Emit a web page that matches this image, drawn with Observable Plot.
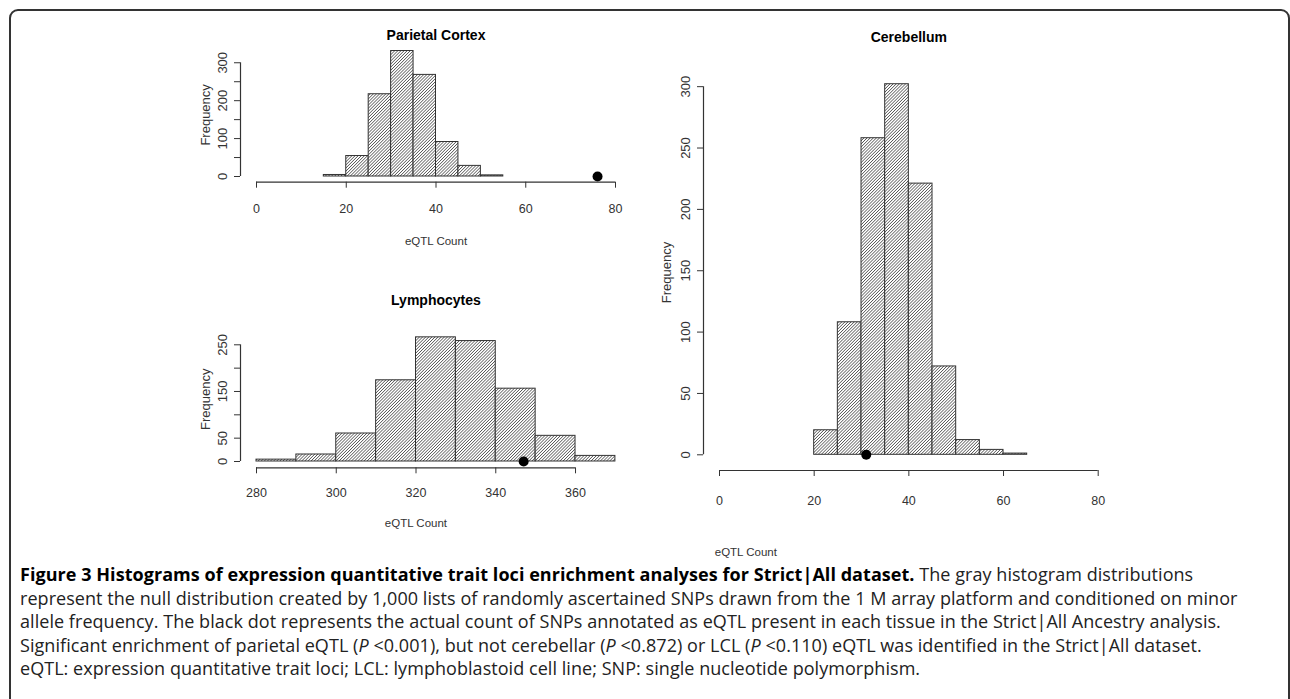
<!DOCTYPE html>
<html><head><meta charset="utf-8">
<script src="https://cdn.jsdelivr.net/npm/d3@7"></script>
<script src="https://cdn.jsdelivr.net/npm/@observablehq/plot@0.6"></script>
<style>
html,body{margin:0;padding:0;background:#fff}
body{width:1290px;height:699px;overflow:hidden;position:relative;font-family:"Liberation Sans",Arial,sans-serif}
#frame{position:absolute;left:9px;top:9px;width:1281px;height:720px;border:2px solid #333;border-radius:9px;box-sizing:border-box}
.panel{position:absolute}
#caption{position:absolute;left:20px;top:563px;font-family:"Open Sans",sans-serif;font-size:18px;letter-spacing:0.05px;line-height:23.5px;color:#222;white-space:nowrap}
#caption b{color:#000}
</style></head>
<body>
<div id="frame"></div>
<svg width="0" height="0" style="position:absolute">
  <defs>
    <pattern id="hatch" patternUnits="userSpaceOnUse" width="2.2" height="2.2" patternTransform="rotate(45)">
      <rect width="2.2" height="2.2" fill="#fff"/>
      <line x1="1.1" y1="0" x2="1.1" y2="2.2" stroke="#555" stroke-width="0.75"/>
    </pattern>
  </defs>
</svg>
<div id="p1" class="panel"></div>
<div id="p2" class="panel"></div>
<div id="p3" class="panel"></div>
<div id="caption">
<div><b>Figure 3 Histograms of expression quantitative trait loci enrichment analyses for Strict|All dataset.</b> The gray histogram distributions</div>
<div>represent the null distribution created by 1,000 lists of randomly ascertained SNPs drawn from the 1 M array platform and conditioned on minor</div>
<div>allele frequency. The black dot represents the actual count of SNPs annotated as eQTL present in each tissue in the Strict|All Ancestry analysis.</div>
<div>Significant enrichment of parietal eQTL (<i>P</i> &lt;0.001), but not cerebellar (<i>P</i> &lt;0.872) or LCL (<i>P</i> &lt;0.110) eQTL was identified in the Strict|All dataset.</div>
<div>eQTL: expression quantitative trait loci; LCL: lymphoblastoid cell line; SNP: single nucleotide polymorphism.</div>
</div>
<script>
// ---- Data ----
const parietalEdges = [15, 20, 25, 30, 35, 40, 45, 50, 55];
const parietalCounts = [4, 54, 217, 331, 268, 91, 28, 3];
const parietalObserved = 76;
const parietalXTicks = [0, 20, 40, 60, 80];
const parietalYTicks = [0, 50, 100, 150, 200, 250, 300];
const parietalYLabels = [0, 100, 200, 300];

const lymphEdges = [280, 290, 300, 310, 320, 330, 340, 350, 360, 370];
const lymphCounts = [4, 15, 60, 174, 266, 258, 156, 55, 12];
const lymphObserved = 347;
const lymphXTicks = [280, 300, 320, 340, 360];
const lymphYTicks = [0, 50, 100, 150, 200, 250];
const lymphYLabels = [0, 50, 150, 250];

const cerebEdges = [20, 25, 30, 35, 40, 45, 50, 55, 60, 65];
const cerebCounts = [20, 108, 258, 302, 221, 72, 12, 4, 1];
const cerebObserved = 31;
const cerebXTicks = [0, 20, 40, 60, 80];
const cerebYTicks = [0, 50, 100, 150, 200, 250, 300];
const cerebYLabels = [0, 50, 100, 150, 200, 250, 300];

const titles = ["Parietal Cortex", "Lymphocytes", "Cerebellum"];
const xLabel = "eQTL Count";
const yLabel = "Frequency";

function panel(o) {
  const bins = o.counts.map((c, i) => ({x1: o.edges[i], x2: o.edges[i + 1], n: c}));
  const ink = "#333";
  const chart = Plot.plot({
    width: o.w, height: o.h,
    marginLeft: o.ml, marginRight: o.mr, marginTop: o.mt, marginBottom: o.mb,
    x: {domain: o.xDomain, insetLeft: o.il},
    y: {domain: o.yDomain, insetBottom: o.ib},
    style: {fontFamily: '"Liberation Sans", Arial, sans-serif', fontSize: "13px", color: ink, background: "transparent", overflow: "visible"},
    marks: [
      Plot.rectY(bins, {x1: "x1", x2: "x2", y: "n", fill: "url(#hatch)", stroke: "#333", strokeWidth: 1}),
      Plot.dot([o.observed], {x: d => d, y: () => 0, r: 5, fill: "#000", stroke: "none"}),
      // axis lines (R style: from first to last tick)
      Plot.ruleY([0], {x1: o.xTicks[0], x2: o.xTicks[o.xTicks.length - 1], dy: o.ib, stroke: ink, strokeWidth: 1.2}),
      Plot.ruleX([o.xDomain[0]], {y1: o.yTicks[0], y2: o.yTicks[o.yTicks.length - 1], dx: -o.il, stroke: ink, strokeWidth: 1.2}),
      Plot.axisX(o.xTicks, {anchor: "bottom", tickSize: 6, tickPadding: o.xPad, label: null, fontSize: 12.5, stroke: ink, fill: ink}),
      Plot.axisY(o.yTicks, {anchor: "left", tickSize: 6, tickFormat: () => "", label: null, stroke: ink}),
      Plot.text(o.yLabels, {y: d => d, text: d => String(d), frameAnchor: "left", textAnchor: "middle", lineAnchor: "middle", rotate: -90, dx: -18, fontSize: 13, fill: ink}),
      Plot.text([o.title], {text: d => d, frameAnchor: "top", lineAnchor: "middle", dy: o.titleDy, dx: o.titleDx, fontWeight: "bold", fontSize: 14, fill: "#000"}),
      Plot.text([xLabel], {text: d => d, frameAnchor: "bottom", lineAnchor: "middle", dy: o.xLabDy, dx: o.xLabDx, fontSize: 11.5, fill: ink}),
      Plot.text([yLabel], {text: d => d, frameAnchor: "left", textAnchor: "middle", lineAnchor: "middle", rotate: -90, dx: o.yLabDx, fontSize: 13, fill: ink})
    ]
  });
  const el = document.getElementById(o.id);
  el.style.left = o.left + "px";
  el.style.top = o.top + "px";
  el.appendChild(chart);
}

panel({id: "p1", left: 180, top: 15, w: 460, h: 240, ml: 60, mr: 25, mt: 32.1, mb: 73.3, il: 16, ib: 5.7,
  edges: parietalEdges, counts: parietalCounts, observed: parietalObserved,
  xDomain: [0, 80], yDomain: [0, 340], xTicks: parietalXTicks, yTicks: parietalYTicks, yLabels: parietalYLabels,
  title: titles[0], titleDy: -12, titleDx: 8, xPad: 16, xLabDy: 59, xLabDx: 8, yLabDx: -35});

panel({id: "p2", left: 180, top: 270, w: 460, h: 270, ml: 60, mr: 25.1, mt: 60.3, mb: 72.7, il: 16, ib: 6.3,
  edges: lymphEdges, counts: lymphCounts, observed: lymphObserved,
  xDomain: [280, 370], yDomain: [0, 280], xTicks: lymphXTicks, yTicks: lymphYTicks, yLabels: lymphYLabels,
  title: titles[1], titleDy: -30, titleDx: 8, xPad: 14, xLabDy: 56, xLabDx: -12, yLabDx: -35});

panel({id: "p3", left: 640, top: 15, w: 480, h: 560, ml: 63, mr: 22.3, mt: 58.9, mb: 105, il: 16, ib: 15.7,
  edges: cerebEdges, counts: cerebCounts, observed: cerebObserved,
  xDomain: [0, 80], yDomain: [0, 310], xTicks: cerebXTicks, yTicks: cerebYTicks, yLabels: cerebYLabels,
  title: titles[2], titleDy: -37, titleDx: 8, xPad: 20, xLabDy: 82, xLabDx: -155, yLabDx: -37});
</script>
</body></html>
